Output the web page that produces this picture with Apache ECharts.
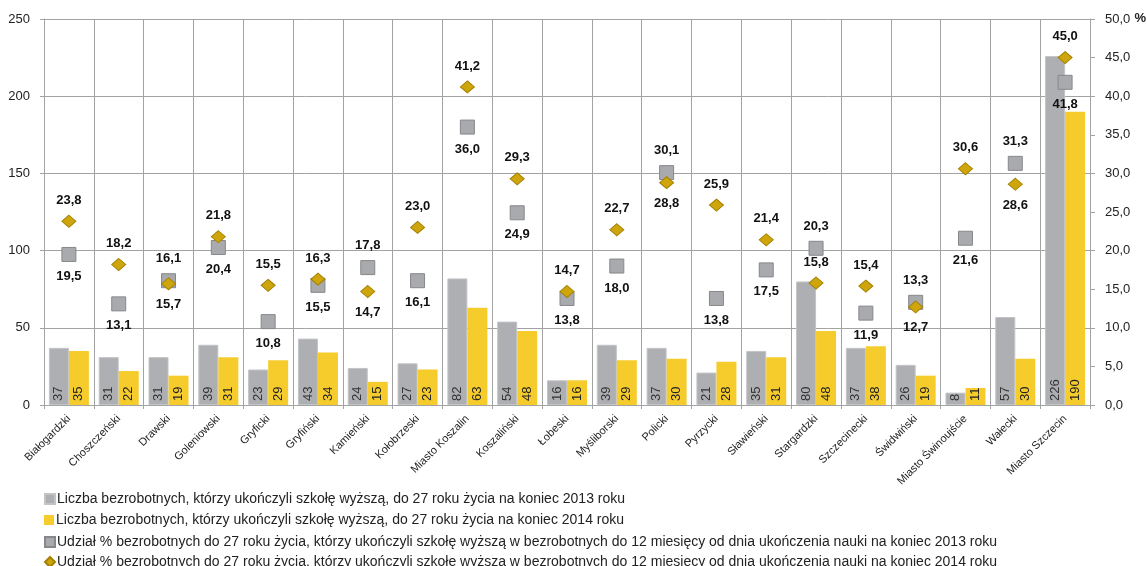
<!DOCTYPE html>
<html><head><meta charset="utf-8">
<script src="https://cdn.jsdelivr.net/npm/echarts@6/dist/echarts.min.js"></script>
<style>html,body{margin:0;padding:0;background:#fff}#c{width:1147px;height:566px}</style>
</head><body><div id="c"></div>
<script>
const categories = ['Białogardzki','Choszczeński','Drawski','Goleniowski','Gryficki','Gryfiński','Kamieński','Kołobrzeski','Miasto Koszalin','Koszaliński','Łobeski','Myśliborski','Policki','Pyrzycki','Sławieński','Stargardzki','Szczecinecki','Świdwiński','Miasto Świnoujście','Wałecki','Miasto Szczecin'];
const count2013 = [37,31,31,39,23,43,24,27,82,54,16,39,37,21,35,80,37,26,8,57,226];
const count2014 = [35,22,19,31,29,34,15,23,63,48,16,29,30,28,31,48,38,19,11,30,190];
const share2013 = [19.5,13.1,16.1,20.4,10.8,15.5,17.8,16.1,36.0,24.9,13.8,18.0,30.1,13.8,17.5,20.3,11.9,13.3,21.6,31.3,41.8];
const share2014 = [23.8,18.2,15.7,21.8,15.5,16.3,14.7,23.0,41.2,29.3,14.7,22.7,28.8,25.9,21.4,15.8,15.4,12.7,30.6,28.6,45.0];
const leftTicks = [0,50,100,150,200,250];
const rightTicks = [0,5,10,15,20,25,30,35,40,45,50];
const names = [
 'Liczba bezrobotnych, którzy ukończyli szkołę wyższą, do 27 roku życia na koniec 2013 roku',
 'Liczba bezrobotnych, którzy ukończyli szkołę wyższą, do 27 roku życia na koniec 2014 roku',
 'Udział % bezrobotnych do 27 roku życia, którzy ukończyli szkołę wyższą w bezrobotnych do 12 miesięcy od dnia ukończenia nauki na koniec 2013 roku',
 'Udział % bezrobotnych do 27 roku życia, którzy ukończyli szkołę wyższą w bezrobotnych do 12 miesięcy od dnia ukończenia nauki na koniec 2014 roku'
];
// label placement (t = above, b = below) for the two scatter series
const lab2013 = ['b','b','t','b','b','b','t','b','b','b','b','b','t','b','b','t','b','t','b','t','b'];
const lab2014 = ['t','t','b','t','t','t','b','t','t','t','t','t','b','t','t','t','t','b','t','b','t'];

const fmt = v => v.toFixed(1).replace('.', ',');
const FONT = 'Liberation Sans, Arial, sans-serif';
const gridColor = '#a3a3a3';

const chart = echarts.init(document.getElementById('c'));
const barLabel = (color) => ({show:true, position:'insideBottom', rotate:90, align:'left', verticalAlign:'middle', distance:4, fontSize:13, color:color, fontFamily:FONT});
const scatterData = (vals, pos) => vals.map((v,i) => ({value:v, label:{position: pos[i]==='t' ? 'top' : 'bottom'}}));
const icons = ['rect','rect','rect','diamond'];
const legendTops = [487, 508, 530, 550];
const legends = names.map((n,i) => ({
  orient:'vertical', left:39, top:legendTops[i], itemWidth:10, itemHeight:10,
  textStyle:{fontSize:14, color:'#222', fontFamily:FONT, padding:[0,0,0,-3]},
  data:[{name:n, icon:icons[i]}]
}));

chart.setOption({
  animation:false,
  textStyle:{fontFamily:FONT},
  grid:{left:44, right:57, top:19, bottom:161, containLabel:false},
  legend:legends,
  xAxis:{
    type:'category', data:categories, boundaryGap:true,
    axisLine:{lineStyle:{color:gridColor}},
    axisTick:{show:true, length:4, interval:0, lineStyle:{color:gridColor}},
    splitLine:{show:true, interval:0, lineStyle:{color:gridColor}},
    axisLabel:{interval:0, rotate:45, fontSize:11, color:'#222', margin:12, fontFamily:FONT}
  },
  yAxis:[
    {type:'value', min:leftTicks[0], max:leftTicks[leftTicks.length-1], interval:50,
     axisLine:{show:true, lineStyle:{color:gridColor}},
     axisTick:{show:true, length:4, lineStyle:{color:gridColor}},
     splitLine:{show:true, lineStyle:{color:gridColor}},
     axisLabel:{fontSize:13, color:'#222', margin:14, fontFamily:FONT}},
    {type:'value', min:rightTicks[0], max:rightTicks[rightTicks.length-1], interval:5,
     axisLine:{show:true, lineStyle:{color:gridColor}},
     axisTick:{show:true, length:5, lineStyle:{color:gridColor}},
     splitLine:{show:false},
     axisLabel:{fontSize:13, color:'#222', margin:15, formatter:fmt, fontFamily:FONT}}
  ],
  graphic:[{type:'text', right:1, top:12, style:{text:'%', font:'bold 13px Liberation Sans, Arial', fill:'#222'}}],
  series:[
    {name:names[0], type:'bar', data:count2013, barWidth:20, barGap:'0%',
     itemStyle:{color:'#adafb2', borderColor:'#c2c4c6', borderWidth:1}, label:barLabel('#333')},
    {name:names[1], type:'bar', data:count2014, barWidth:20, barGap:'0%',
     itemStyle:{color:'#f5cc2c'}, label:barLabel('#222')},
    {name:names[2], type:'scatter', yAxisIndex:1, data:scatterData(share2013, lab2013), symbol:'rect', symbolSize:14,
     itemStyle:{color:'#a8aaad', borderColor:'#86888b', borderWidth:1, opacity:1},
     label:{show:true, formatter:p=>fmt(p.value), fontSize:13, fontWeight:'bold', color:'#111', distance:8, fontFamily:FONT}, z:3},
    {name:names[3], type:'scatter', yAxisIndex:1, data:scatterData(share2014, lab2014), symbol:'diamond', symbolSize:[14,12],
     itemStyle:{color:'#cfa50c', borderColor:'#a48200', borderWidth:1, opacity:1},
     label:{show:true, formatter:p=>fmt(p.value), fontSize:13, fontWeight:'bold', color:'#111', distance:8, fontFamily:FONT}, z:4}
  ]
});
</script></body></html>
